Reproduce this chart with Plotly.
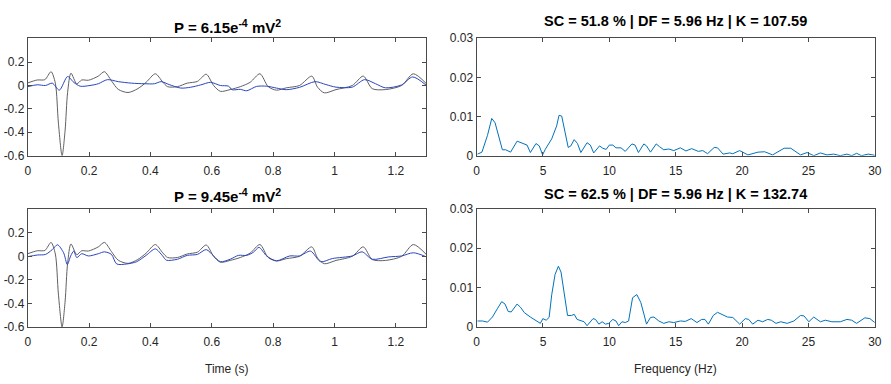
import plotly.graph_objects as go
from plotly.subplots import make_subplots

# ---------------- data ----------------
# original (gray) signal, shared by both rows
t_gray = [0, 0.031, 0.056, 0.076, 0.09, 0.1, 0.112, 0.122, 0.13, 0.141, 0.16, 0.176, 0.198, 0.23, 0.25,
          0.273, 0.295, 0.327, 0.359, 0.386, 0.416, 0.44, 0.456, 0.488, 0.52, 0.553, 0.582, 0.606, 0.628,
          0.66, 0.693, 0.725, 0.757, 0.784, 0.811, 0.843, 0.886, 0.926, 0.945, 0.967, 1.005, 1.058, 1.094,
          1.123, 1.166, 1.219, 1.257, 1.3]
v_gray = [0.022, 0.047, 0.05, 0.118, 0.02, -0.32, -0.6, -0.38, -0.06, 0.105, 0.014, 0.047, 0.045, 0.08, 0.118,
          0.04, -0.033, -0.06, -0.027, 0.027, 0.1, 0.03, -0.01, -0.01, 0.02, 0.035, 0.096, 0.0, -0.05,
          -0.035, -0.01, 0.027, 0.1, -0.01, -0.04, -0.02, 0.0, 0.08, -0.015, -0.063, -0.035, 0.0, 0.08,
          -0.027, -0.035, 0.0, 0.1, 0.014]

# processed (blue) signal, top row
t_blue_1 = [0, 0.031, 0.058, 0.08, 0.103, 0.13, 0.15, 0.171, 0.203, 0.23, 0.26, 0.295, 0.338, 0.381, 0.413,
            0.435, 0.461, 0.499, 0.531, 0.564, 0.596, 0.628, 0.655, 0.666, 0.693, 0.714, 0.746, 0.779, 0.811,
            0.843, 0.886, 0.937, 0.972, 1.005, 1.058, 1.098, 1.134, 1.166, 1.219, 1.255, 1.3]
v_blue_1 = [-0.01, 0.006, 0.0, 0.02, -0.04, 0.077, 0.027, -0.006, 0.0, 0.015, 0.05, 0.033, 0.02, 0.015, 0.015,
            0.033, 0.008, -0.022, -0.015, 0.005, 0.027, 0.0, -0.006, -0.036, -0.033, -0.045, -0.008, -0.006, -0.022,
            -0.036, -0.016, 0.033, 0.008, -0.014, -0.014, 0.05, 0.015, -0.02, 0.005, 0.073, 0.0]

# processed (blue) signal, bottom row
t_blue_2 = [0, 0.031, 0.058, 0.08, 0.097, 0.117, 0.129, 0.14, 0.15, 0.16, 0.176, 0.198, 0.23, 0.25, 0.273,
            0.29, 0.323, 0.355, 0.386, 0.416, 0.44, 0.452, 0.488, 0.52, 0.553, 0.582, 0.606, 0.628, 0.66,
            0.687, 0.714, 0.736, 0.754, 0.779, 0.811, 0.854, 0.886, 0.922, 0.955, 0.993, 1.058, 1.09, 1.123,
            1.177, 1.219, 1.257, 1.3]
v_blue_2 = [-0.003, 0.011, 0.016, 0.057, 0.098, 0.03, -0.07, 0.003, 0.044, -0.011, 0.022, 0.003, 0.022, 0.038, 0.016,
            -0.065, -0.065, -0.046, 0.008, 0.063, 0.003, -0.033, -0.025, 0.008, 0.016, 0.057, 0.003, -0.046, -0.025,
            0.008, 0.008, 0.035, 0.076, 0.003, -0.038, 0.003, 0.003, 0.044, -0.046, -0.019, 0.003, 0.038, -0.025,
            -0.005, 0.003, 0.03, -0.005]

# spectra
f_1 = [0.07, 0.4, 0.82, 1.14, 1.39, 1.64, 1.94, 2.19, 2.56, 3.05, 3.55, 3.8, 4.05, 4.47, 4.72, 4.97, 5.17, 5.66,
       6.03, 6.21, 6.41, 6.6, 6.9, 7.1, 7.35, 7.6, 7.85, 8.32, 8.57, 8.82, 9.26, 9.5, 9.76, 10.0, 10.26, 10.5,
       10.88, 11.2, 11.7, 11.94, 12.19, 12.6, 12.8, 13.1, 13.53, 13.78, 14.1, 14.48, 14.85, 15.35, 15.77, 16.2,
       16.7, 17.04, 17.4, 17.9, 18.15, 18.57, 19.07, 19.3, 19.82, 20.44, 21.2, 21.7, 22.3, 23.17, 23.67, 24.4,
       24.9, 25.4, 25.9, 26.4, 26.9, 27.4, 27.9, 28.26, 28.63, 29.0, 29.5, 30.0]
s_1 = [0.0004, 0.0009, 0.0052, 0.0095, 0.0084, 0.0052, 0.0015, 0.0015, 0.0009, 0.0037, 0.0031, 0.0027, 0.0008,
       0.0031, 0.0025, 0.0002, 0.0016, 0.0043, 0.0076, 0.0103, 0.0101, 0.0068, 0.0021, 0.0025, 0.0041, 0.0031,
       0.0008, 0.0033, 0.0027, 0.0007, 0.0025, 0.0019, 0.0016, 0.0027, 0.0027, 0.002, 0.002, 0.0011, 0.003,
       0.0027, 0.0008, 0.003, 0.0025, 0.0009, 0.003, 0.0023, 0.0015, 0.0017, 0.0013, 0.002, 0.0012, 0.0018,
       0.0011, 0.0013, 0.0005, 0.0021, 0.002, 0.0004, 0.0007, 0.0005, 0.0013, 0.0002, 0.0009, 0.001, 0.0002,
       0.0019, 0.0019, 0.0002, 0.0008, 0.0, 0.0007, 0.0002, 0.0004, 0.0, 0.0004, 0.0, 0.0006, 0.0, 0.0004, 0.0001]

f_2 = [0.07, 0.45, 0.82, 1.19, 1.56, 1.89, 2.14, 2.38, 2.61, 2.86, 3.05, 3.3, 3.6, 4.05, 4.54, 4.8, 4.99, 5.24,
       5.46, 5.66, 5.91, 6.16, 6.36, 6.6, 6.85, 7.15, 7.35, 7.57, 7.9, 8.1, 8.32, 8.77, 8.96, 9.21, 9.46, 9.71,
       9.96, 10.26, 10.5, 10.7, 10.95, 11.2, 11.45, 11.75, 12.07, 12.37, 12.6, 12.8, 13.1, 13.36, 13.73, 14.1,
       14.48, 14.85, 15.35, 15.72, 16.17, 16.6, 16.96, 17.2, 17.46, 17.83, 18.15, 18.45, 18.9, 19.3, 19.82,
       20.24, 20.5, 20.8, 21.2, 21.55, 21.93, 22.2, 22.55, 22.92, 23.4, 23.9, 24.4, 24.66, 25.03, 25.4, 25.9,
       26.27, 26.77, 27.4, 27.9, 28.26, 28.63, 29.25, 29.63, 30.0]
s_2 = [0.0015, 0.0015, 0.0012, 0.0025, 0.0046, 0.0064, 0.0058, 0.0039, 0.0038, 0.0051, 0.0058, 0.005, 0.0036,
       0.0025, 0.0015, 0.0009, 0.0021, 0.0017, 0.0024, 0.0082, 0.0133, 0.0154, 0.0139, 0.009, 0.0029, 0.0029,
       0.0032, 0.0019, 0.0015, 0.0013, 0.0003, 0.0021, 0.0019, 0.0007, 0.0013, 0.0007, 0.0009, 0.0019, 0.0015,
       0.0003, 0.0013, 0.0011, 0.0015, 0.0074, 0.0082, 0.0062, 0.0033, 0.0007, 0.0024, 0.0025, 0.0015, 0.0009,
       0.0013, 0.0011, 0.0015, 0.0014, 0.0021, 0.0011, 0.0019, 0.0019, 0.0007, 0.0029, 0.0037, 0.0033, 0.0025,
       0.0024, 0.0007, 0.0021, 0.0019, 0.0007, 0.0017, 0.0013, 0.0019, 0.0017, 0.0009, 0.0013, 0.0009, 0.0015,
       0.0029, 0.0028, 0.0013, 0.0025, 0.0013, 0.0017, 0.0013, 0.0013, 0.0019, 0.0017, 0.0009, 0.0023, 0.0021,
       0.0011]

titles_left = ["P = 6.15e<sup>-4</sup> mV<sup>2</sup>", "P = 9.45e<sup>-4</sup> mV<sup>2</sup>"]
titles_right = ["SC = 51.8 % | DF = 5.96 Hz | K = 107.59", "SC = 62.5 % | DF = 5.96 Hz | K = 132.74"]

time_ticks = [0, 0.2, 0.4, 0.6, 0.8, 1.0, 1.2]
time_labels = ["0", "0.2", "0.4", "0.6", "0.8", "1", "1.2"]
amp_ticks = [-0.6, -0.4, -0.2, 0, 0.2]
amp_labels = ["-0.6", "-0.4", "-0.2", "0", "0.2"]
freq_ticks = [0, 5, 10, 15, 20, 25, 30]
freq_labels = ["0", "5", "10", "15", "20", "25", "30"]
psd_ticks = [0, 0.01, 0.02, 0.03]
psd_labels = ["0", "0.01", "0.02", "0.03"]

# ---------------- figure ----------------
W, H = 891, 384
FONT = "Liberation Sans, Arial, sans-serif"
GRAY = "#606060"
BLUE = "#2a45c2"
SPEC = "#0072BD"
AX = "#4a4a4a"

fig = make_subplots(rows=2, cols=2)

blues = [(t_blue_1, v_blue_1), (t_blue_2, v_blue_2)]
specs = [(f_1, s_1), (f_2, s_2)]
for r in range(2):
    fig.add_trace(go.Scatter(x=t_gray, y=v_gray, mode="lines", line=dict(color=GRAY, width=1, shape="spline", smoothing=0.8),
                             showlegend=False, hoverinfo="skip"), row=r + 1, col=1)
    fig.add_trace(go.Scatter(x=blues[r][0], y=blues[r][1], mode="lines", line=dict(color=BLUE, width=1, shape="spline", smoothing=0.8),
                             showlegend=False, hoverinfo="skip"), row=r + 1, col=1)
    fig.add_trace(go.Scatter(x=specs[r][0], y=specs[r][1], mode="lines", line=dict(color=SPEC, width=1),
                             showlegend=False, hoverinfo="skip"), row=r + 1, col=2)

left_dom = [25 / W, 428.3 / W]
right_dom = [479 / W, 881.7 / W]
top_dom = [1 - 154.3 / H, 1 - 32.3 / H]
bot_dom = [1 - 332 / H, 1 - 209.3 / H]

common = dict(showline=True, mirror="ticks", linecolor=AX, linewidth=1, ticks="inside", ticklen=4,
              tickcolor=AX, tickwidth=1, showgrid=False, zeroline=False,
              tickfont=dict(family=FONT, size=12, color="#262626"))

for r, ydom in enumerate([top_dom, bot_dom]):
    fig.update_xaxes(domain=left_dom, range=[0, 1.3], tickvals=time_ticks, ticktext=time_labels,
                     ticklabelstandoff=4, row=r + 1, col=1, **common)
    fig.update_yaxes(domain=ydom, range=[-0.6, 0.405], tickvals=amp_ticks, ticktext=amp_labels, row=r + 1, col=1, **common)
    fig.update_xaxes(domain=right_dom, range=[0, 30], tickvals=freq_ticks, ticktext=freq_labels,
                     ticklabelstandoff=4, row=r + 1, col=2, **common)
    fig.update_yaxes(domain=ydom, range=[0, 0.03], tickvals=psd_ticks, ticktext=psd_labels, row=r + 1, col=2, **common)

ann = []
cx_l = (25 + 428.3) / 2 / W
cx_r = (479 + 881.7) / 2 / W
for r, ypx in enumerate([20, 196]):
    ann.append(dict(text="<b>" + titles_left[r] + "</b>", x=cx_l, y=1 - ypx / H, xref="paper", yref="paper",
                    xanchor="center", yanchor="middle", showarrow=False, font=dict(family=FONT, size=15, color="black")))
for r, ypx in enumerate([15, 194]):
    ann.append(dict(text="<b>" + titles_right[r] + "</b>", x=cx_r, y=1 - ypx / H, xref="paper", yref="paper",
                    xanchor="center", yanchor="middle", showarrow=False, font=dict(family=FONT, size=14.5, color="black")))
ann.append(dict(text="Time (s)", x=cx_l, y=1 - 376 / H, xref="paper", yref="paper", xanchor="center", yanchor="middle",
                showarrow=False, font=dict(family=FONT, size=12, color="#262626")))
ann.append(dict(text="Frequency (Hz)", x=cx_r, y=1 - 376 / H, xref="paper", yref="paper", xanchor="center", yanchor="middle",
                showarrow=False, font=dict(family=FONT, size=12, color="#262626")))

fig.update_layout(width=W, height=H, margin=dict(l=0, r=0, t=0, b=0), paper_bgcolor="white", plot_bgcolor="white",
                  annotations=ann, showlegend=False)

fig.write_html("out.html")
